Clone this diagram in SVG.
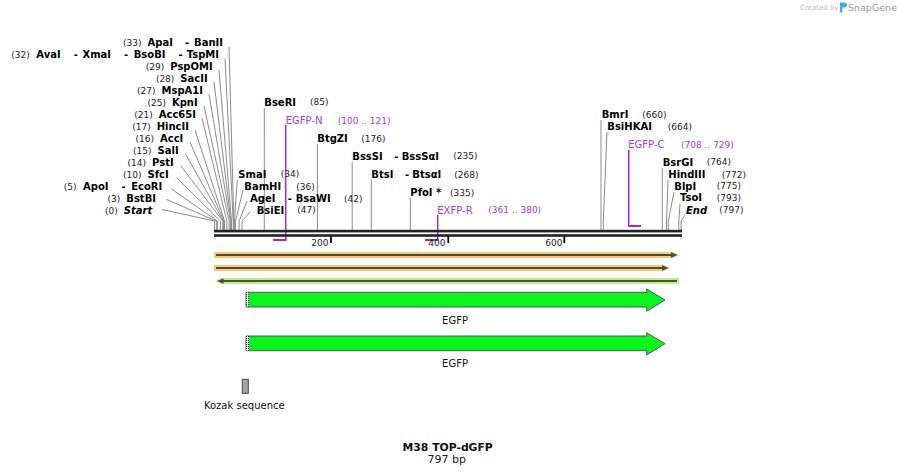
<svg xmlns="http://www.w3.org/2000/svg" width="897" height="475" viewBox="0 0 897 475">
<style>
text{font-family:"DejaVu Sans",Verdana,sans-serif}
.n{font-weight:bold;font-size:10px;fill:#000}
.i{font-weight:bold;font-style:italic;font-size:10px;fill:#000}
.p{font-size:9px;fill:#222}
.pr{font-size:10px;fill:#a23cf0}
.prp{font-size:9px;fill:#a23cf0}
.ln{stroke:#8c8c8c;stroke-width:1;fill:none}
.pl{stroke:#9a28ec;fill:none}
.lbl{font-size:10px;fill:#111}
</style>
<rect width="897" height="475" fill="#fff"/>

<!-- connectors: enzyme site lines -->
<g id="connectors" class="ln">
<path d="M229,47L233.8,221V230"/>
<path d="M225,59L233.2,221V230"/>
<path d="M219,70L231.5,221V230"/>
<path d="M214,82L230.9,221V230"/>
<path d="M209,94L230.3,221V230"/>
<path d="M204,106L229.1,221V230"/>
<path d="M202,118L226.8,221V230"/>
<path d="M195,130L224.5,221V230"/>
<path d="M190,142L223.9,221V230"/>
<path d="M185.5,154L223.3,221V230"/>
<path d="M181,166L222.7,221V230"/>
<path d="M176.5,177.5L220.4,221V230"/>
<path d="M171.5,189L217.4,221V230"/>
<path d="M166.5,199.5L216.3,221V230"/>
<path d="M162,209.5L214.5,221V230"/>
<path d="M237.3,180L234.4,221V230"/>
<path d="M243,190L235.6,221V230"/>
<path d="M247,201L239.1,221V230"/>
<path d="M250,212L242,221V230"/>
<path d="M264.3,108V230"/>
<path d="M317.4,144V230"/>
<path d="M352.2,162V230"/>
<path d="M371.3,180V230"/>
<path d="M410.4,198V230"/>
<path d="M601,120V230"/>
<path d="M607,132L603.3,221V230"/>
<path d="M662.3,168V230"/>
<path d="M668,180L666.5,221V230"/>
<path d="M674,192L668.3,221V230"/>
<path d="M680,204L678.8,221V230"/>
<path d="M685,215L681.1,221V230"/>
</g>

<!-- primers -->
<g id="primer-EGFP-N">
<path class="pl" stroke-width="1.5" d="M285.7,125V240"/>
<path class="pl" stroke-width="2" d="M273,240H286.5"/>
<text class="pr" x="285.7" y="124.3">EGFP-N</text>
<text class="prp" x="337.7" y="124">(100 .. 121)</text>
</g>
<g id="primer-EXFP-R">
<path class="pl" stroke-width="1.5" d="M437.7,215V240"/>
<path class="pl" stroke-width="2" d="M425,240H438.5"/>
<text class="pr" x="437.3" y="213.6">EXFP-R</text>
<text class="prp" x="488.3" y="213.3">(361 .. 380)</text>
</g>
<g id="primer-EGFP-C">
<path class="pl" stroke-width="1.5" d="M628.7,150V226"/>
<path class="pl" stroke-width="2" d="M628,226H641"/>
<text class="pr" x="628.3" y="147.9">EGFP-C</text>
<text class="prp" x="681" y="147.6">(708 .. 729)</text>
</g>

<!-- map line -->
<g id="map">
<rect x="214" y="229.8" width="468" height="2.6" fill="#222"/>
<rect x="214" y="234.2" width="468" height="2.6" fill="#222"/>
<path d="M331,236.5V243M448.3,236.5V243M564.3,236.5V243" stroke="#000" stroke-width="1.8"/>
<text class="p" x="328.5" y="245.5" text-anchor="end">200</text>
<text class="p" x="445.5" y="245.5" text-anchor="end">400</text>
<text class="p" x="562.5" y="245.5" text-anchor="end">600</text>
</g>

<!-- left cluster labels -->
<g id="site-33"><text x="223" y="46" text-anchor="end"><tspan class="p">(33)</tspan><tspan class="n" dx="6">ApaI</tspan><tspan class="n" dx="12">-</tspan><tspan class="n" dx="5">BanII</tspan></text></g>
<g id="site-32"><text x="219" y="58" text-anchor="end"><tspan class="p">(32)</tspan><tspan class="n" dx="6.5">AvaI</tspan><tspan class="n" dx="13">-</tspan><tspan class="n" dx="5.5">XmaI</tspan><tspan class="n" dx="13">-</tspan><tspan class="n" dx="5.5">BsoBI</tspan><tspan class="n" dx="13">-</tspan><tspan class="n" dx="5.5">TspMI</tspan></text></g>
<g id="site-29"><text x="212.7" y="69.6" text-anchor="end"><tspan class="p">(29)</tspan><tspan class="n" dx="6">PspOMI</tspan></text></g>
<g id="site-28"><text x="207.7" y="81.6" text-anchor="end"><tspan class="p">(28)</tspan><tspan class="n" dx="6">SacII</tspan></text></g>
<g id="site-27"><text x="203" y="93.6" text-anchor="end"><tspan class="p">(27)</tspan><tspan class="n" dx="6">MspA1I</tspan></text></g>
<g id="site-25"><text x="197.7" y="105.6" text-anchor="end"><tspan class="p">(25)</tspan><tspan class="n" dx="6">KpnI</tspan></text></g>
<g id="site-21"><text x="196" y="117.6" text-anchor="end"><tspan class="p">(21)</tspan><tspan class="n" dx="6">Acc65I</tspan></text></g>
<g id="site-17"><text x="189" y="129.6" text-anchor="end"><tspan class="p">(17)</tspan><tspan class="n" dx="6">HincII</tspan></text></g>
<g id="site-16"><text x="183.3" y="141.6" text-anchor="end"><tspan class="p">(16)</tspan><tspan class="n" dx="6">AccI</tspan></text></g>
<g id="site-15"><text x="178.7" y="153.6" text-anchor="end"><tspan class="p">(15)</tspan><tspan class="n" dx="6">SalI</tspan></text></g>
<g id="site-14"><text x="173.7" y="165.6" text-anchor="end"><tspan class="p">(14)</tspan><tspan class="n" dx="6">PstI</tspan></text></g>
<g id="site-10"><text x="168.7" y="177.6" text-anchor="end"><tspan class="p">(10)</tspan><tspan class="n" dx="6">SfcI</tspan></text></g>
<g id="site-5"><text x="162.3" y="189.6" text-anchor="end"><tspan class="p">(5)</tspan><tspan class="n" dx="6.5">ApoI</tspan><tspan class="n" dx="13">-</tspan><tspan class="n" dx="5.5">EcoRI</tspan></text></g>
<g id="site-3"><text x="156" y="201.6" text-anchor="end"><tspan class="p">(3)</tspan><tspan class="n" dx="6">BstBI</tspan></text></g>
<g id="site-0"><text x="152.3" y="213.6" text-anchor="end"><tspan class="p">(0)</tspan><tspan class="i" dx="6">Start</tspan></text></g>

<!-- right of cluster -->
<g id="site-34"><text class="n" x="238.3" y="177.6">SmaI</text><text class="p" x="280.7" y="177.3">(34)</text></g>
<g id="site-36"><text class="n" x="244.3" y="190.3">BamHI</text><text class="p" x="296.3" y="190">(36)</text></g>
<g id="site-42"><text class="n" x="250" y="202.3">AgeI</text><text class="n" x="287.7" y="202.3">-</text><text class="n" x="295.7" y="202.3">BsaWI</text><text class="p" x="344" y="202">(42)</text></g>
<g id="site-47"><text class="n" x="256.7" y="213.6">BsiEI</text><text class="p" x="297.3" y="213.3">(47)</text></g>
<g id="site-85"><text class="n" x="264.3" y="105.6">BseRI</text><text class="p" x="310" y="105.3">(85)</text></g>
<g id="site-176"><text class="n" x="317.3" y="141.9">BtgZI</text><text class="p" x="361.3" y="141.6">(176)</text></g>
<g id="site-235"><text class="n" x="352.3" y="159.6">BssSI</text><text class="n" x="394.3" y="159.6">-</text><text class="n" x="401.7" y="159.6">BssSαI</text><text class="p" x="453.3" y="159.3">(235)</text></g>
<g id="site-268"><text class="n" x="371.3" y="177.9">BtsI</text><text class="n" x="405" y="177.9">-</text><text class="n" x="412.3" y="177.9">BtsαI</text><text class="p" x="454.3" y="177.6">(268)</text></g>
<g id="site-335"><text class="n" x="410.3" y="195.9">PfoI *</text><text class="p" x="450" y="195.6">(335)</text></g>
<g id="site-660"><text class="n" x="601.7" y="117.9">BmrI</text><text class="p" x="642.3" y="117.6">(660)</text></g>
<g id="site-664"><text class="n" x="607.3" y="129.9">BsiHKAI</text><text class="p" x="667.7" y="129.6">(664)</text></g>
<g id="site-764"><text class="n" x="662.7" y="165.6">BsrGI</text><text class="p" x="706.7" y="165.3">(764)</text></g>
<g id="site-772"><text class="n" x="668.3" y="177.9">HindIII</text><text class="p" x="721.7" y="177.6">(772)</text></g>
<g id="site-775"><text class="n" x="674.3" y="189.6">BlpI</text><text class="p" x="716.7" y="189.3">(775)</text></g>
<g id="site-793"><text class="n" x="680" y="201.3">TsoI</text><text class="p" x="716.7" y="201">(793)</text></g>
<g id="site-797"><text class="i" x="686" y="213.6">End</text><text class="p" x="719.3" y="213.3">(797)</text></g>

<!-- feature rows -->
<g id="feature-row1">
<polygon points="214,252 673,252 679,255 673,258 214,258" fill="#fac86e"/>
<path d="M216,255H672" stroke="#4a4a4a" stroke-width="2"/>
<polygon points="671,252.3 677.5,255 671,257.7" fill="#4a4a4a"/>
</g>
<g id="feature-row2">
<polygon points="214,265 664,265 670,268 664,271 214,271" fill="#fac86e"/>
<path d="M216,268H663" stroke="#4a4a4a" stroke-width="2"/>
<polygon points="662,265.3 668.5,268 662,270.7" fill="#4a4a4a"/>
</g>
<g id="feature-row3">
<polygon points="215,281 221,278 679,278 679,284 221,284" fill="#bef082"/>
<path d="M222,281H677" stroke="#4a4a4a" stroke-width="2"/>
<polygon points="223.5,278.3 217,281 223.5,283.7" fill="#4a4a4a"/>
</g>

<!-- EGFP arrows -->
<g id="EGFP-1">
<polygon points="246,292.3 646.7,292.3 646.7,289 665,300 646.7,311.2 646.7,307 246,307" fill="#0af51e" stroke="#555" stroke-width="1"/>
<rect x="246" y="292.3" width="3" height="14.7" fill="#fff"/>
<path d="M246.5,292.3V307M248.5,292.3V307" stroke="#000" stroke-width="1" stroke-dasharray="1 1"/>
<text class="lbl" x="455" y="323.5" text-anchor="middle">EGFP</text>
</g>
<g id="EGFP-2">
<polygon points="246,336 646.7,336 646.7,332.7 665,343.7 646.7,354.9 646.7,350.7 246,350.7" fill="#0af51e" stroke="#555" stroke-width="1"/>
<rect x="246" y="336" width="3" height="14.7" fill="#fff"/>
<path d="M246.5,336V350.7M248.5,336V350.7" stroke="#000" stroke-width="1" stroke-dasharray="1 1"/>
<text class="lbl" x="455" y="366.5" text-anchor="middle">EGFP</text>
</g>

<!-- Kozak -->
<g id="kozak">
<rect x="242.3" y="379.3" width="6" height="14" fill="#a2a4a8" stroke="#444" stroke-width="1"/>
<text class="lbl" x="244.3" y="408.5" text-anchor="middle">Kozak sequence</text>
</g>

<!-- title -->
<g id="title">
<text x="447.7" y="451.2" text-anchor="middle" font-weight="bold" font-size="10.8" fill="#111">M38 TOP-dGFP</text>
<text x="446.7" y="463" text-anchor="middle" font-size="11" fill="#222">797 bp</text>
</g>

<!-- logo -->
<g id="logo">
<text x="800" y="10" font-size="7" fill="#bdbdbd">Created by</text>
<path d="M840,2.5h4.5a2.5,2.5 0 0 1 0,5h-2.2v5h-2.3z" fill="#35b2ea"/>
<text x="848" y="11" font-size="9.5" fill="#9a9a9a">SnapGene</text>
</g>
</svg>
